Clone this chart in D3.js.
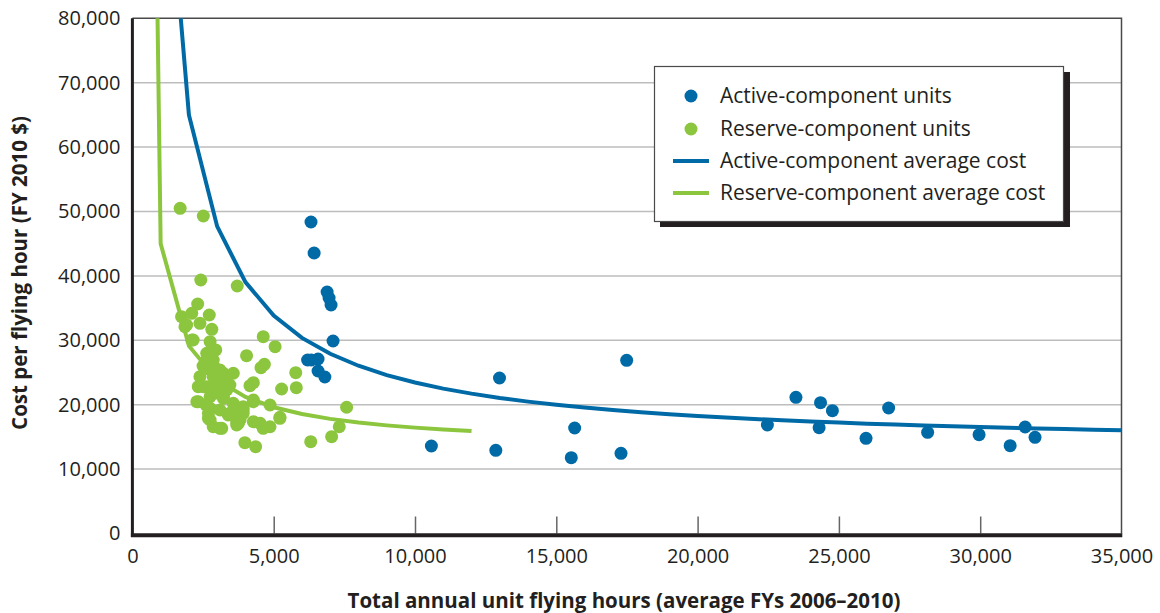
<!DOCTYPE html>
<html>
<head>
<meta charset="utf-8">
<script src="https://cdn.jsdelivr.net/npm/d3@7"></script>
<style>
  html, body { margin: 0; padding: 0; background: #ffffff; }
  svg { display: block; }
  text { font-family: "Open Sans", "Noto Sans", sans-serif; fill: #231f20; }
</style>
</head>
<body>
<svg id="chart" width="1160" height="613"></svg>
<script>
// ---------------- DATA ----------------
const xTicks = [0, 5000, 10000, 15000, 20000, 25000, 30000, 35000];
const yTicks = [0, 10000, 20000, 30000, 40000, 50000, 60000, 70000, 80000];

const activeHours = [6320, 6430, 6890, 6960, 7030, 7100, 6200, 6330, 6570, 6570, 6810,
  10580, 12860, 12990, 15530, 15650, 17290, 17490,
  22470, 23480, 24350, 24300, 24770, 25960, 26760, 28140, 29960, 31060, 31590, 31940];
const activeCost = [48370, 43560, 37500, 36570, 35480, 29890, 26940, 26940, 27100, 25230, 24300,
  13590, 12920, 24150, 11770, 16380, 12450, 26890,
  16850, 21150, 20310, 16430, 19070, 14780, 19490, 15710, 15340, 13640, 16540, 14940];

const reserveHours = [1690, 2510, 2420, 3710, 2310, 4630, 5050, 4040, 4550, 4670,
  5780, 5280, 5800, 4160, 4280, 7580, 7320, 7050, 6310, 3980,
  4360, 4870, 5220, 4870, 4630, 4280, 3750, 3920, 4280, 3450,
  1740, 2100, 2720, 1920, 2390, 2810, 2150, 2750, 2630, 2860,
  2390, 2750, 3100, 3570, 2510, 2980, 3340, 2280, 2750, 3220,
  2750, 2690, 2860, 3160, 3690, 3920, 4520, 5220, 1860, 2100,
  2750, 2860, 2630, 2860, 3220, 2330, 2630, 3100, 3450, 2330,
  3220, 2690, 3100, 2750, 3510, 3810, 3690, 3920, 3690, 3100,
  3570, 4280, 3390, 2500, 2950, 3000, 2600, 3300];
const reserveCost = [50500, 49300, 39360, 38430, 35640, 30560, 29010, 27610, 25750, 26270,
  24970, 22440, 22640, 22950, 23420, 19600, 16580, 15030, 14260, 14100,
  13480, 19950, 18040, 16580, 16330, 17360, 17110, 19180, 20470, 18660,
  33670, 34190, 33930, 32380, 32640, 31710, 30050, 29790, 27980, 26940,
  24350, 25390, 25390, 24880, 22800, 23320, 22280, 20470, 21240, 20990,
  19440, 17890, 16580, 16330, 17360, 19690, 17110, 17890, 32110, 30050,
  27720, 26160, 26940, 24350, 24880, 22800, 22800, 22800, 23060, 20470,
  21240, 18660, 19180, 17620, 18660, 17620, 19180, 18660, 16850, 16330,
  20220, 20730, 18400, 26000, 28500, 21800, 20000, 24000];

const activeCurveHours = [1000, 2000, 3000, 4000, 5000, 6000, 7000, 8000, 9000, 10000,
  11000, 12000, 13000, 14000, 15000, 16000, 17000, 18000, 19000, 20000,
  21000, 22000, 23000, 24000, 25000, 26000, 27000, 28000, 29000, 30000,
  31000, 32000, 33000, 34000, 35000];
const activeCurveCost = [116940, 65000, 47690, 39030, 33840, 30370, 27900, 26050, 24600, 23450,
  22500, 21720, 21050, 20480, 19990, 19550, 19170, 18830, 18530, 18250,
  18010, 17780, 17580, 17390, 17220, 17060, 16910, 16770, 16640, 16520,
  16410, 16310, 16210, 16120, 16030];

const reserveCurveHours = [100, 1000, 2000, 3000, 4000, 5000, 6000, 7000, 8000, 9000, 10000, 11000, 12000];
const reserveCurveCost = [330600, 45000, 29130, 23840, 21200, 19610, 18550, 17800, 17230, 16790, 16440, 16150, 15910];

const legendLabels = ["Active-component units", "Reserve-component units",
  "Active-component average cost", "Reserve-component average cost"];
const xTitle = "Total annual unit flying hours (average FYs 2006–2010)";
const yTitle = "Cost per flying hour (FY 2010 $)";

// ---------------- STYLE ----------------
const BLUE = "#006aa7";
const GREEN = "#8cc63f";
const INK = "#231f20";

const svg = d3.select("#chart");
const x = d3.scaleLinear().domain([0, 35000]).range([132.4, 1121.5]);
const y = d3.scaleLinear().domain([0, 80000]).range([533.5, 18.3]);

// clip
svg.append("defs").append("clipPath").attr("id", "plotclip")
  .append("rect").attr("x", x(0)).attr("y", y(80000))
  .attr("width", x(35000) - x(0)).attr("height", y(0) - y(80000));

// gridlines
svg.append("g").selectAll("line")
  .data(yTicks.filter(d => d > 0 && d < 80000)).join("line")
  .attr("x1", x(0)).attr("x2", x(35000))
  .attr("y1", d => y(d)).attr("y2", d => y(d))
  .attr("stroke", "#bdbdbd").attr("stroke-width", 1.5);

// frame top/right
svg.append("path")
  .attr("d", `M${x(0)},${y(80000)}H${x(35000)}V${y(0)}`)
  .attr("fill", "none").attr("stroke", "#4a4a4a").attr("stroke-width", 1.5);

// x axis
const xAxis = svg.append("g").attr("transform", `translate(0,${y(0)})`)
  .call(d3.axisBottom(x).tickValues(xTicks).tickSize(-17).tickPadding(0).tickFormat(d3.format(",")));
xAxis.select(".domain").remove();
xAxis.selectAll(".tick line").attr("stroke", "#666").attr("stroke-width", 1.5)
  .filter(d => d === 0 || d === 35000).remove();
xAxis.selectAll(".tick text").attr("y", 29).attr("dy", 0)
  .attr("font-size", 20).attr("fill", INK).attr("font-family", null);

// y axis
const yAxis = svg.append("g").attr("transform", `translate(${x(0)},0)`)
  .call(d3.axisLeft(y).tickValues(yTicks).tickSize(0).tickPadding(12).tickFormat(d3.format(",")));
yAxis.select(".domain").remove();
yAxis.selectAll(".tick text").attr("font-size", 20).attr("fill", INK).attr("font-family", null);

// thick axis lines
svg.append("line").attr("x1", x(0)).attr("x2", x(0)).attr("y1", y(80000)).attr("y2", y(0) + 3.5)
  .attr("stroke", INK).attr("stroke-width", 3);
svg.append("line").attr("x1", x(0) - 1.5).attr("x2", x(35000) + 0.8).attr("y1", y(0) + 1.8).attr("y2", y(0) + 1.8)
  .attr("stroke", INK).attr("stroke-width", 4);

// points
const plot = svg.append("g").attr("clip-path", "url(#plotclip)");
const R = 6.5;
plot.append("g").selectAll("circle")
  .data(reserveHours.map((h, i) => [h, reserveCost[i]])).join("circle")
  .attr("cx", d => x(d[0])).attr("cy", d => y(d[1])).attr("r", R).attr("fill", GREEN);
plot.append("g").selectAll("circle")
  .data(activeHours.map((h, i) => [h, activeCost[i]])).join("circle")
  .attr("cx", d => x(d[0])).attr("cy", d => y(d[1])).attr("r", R).attr("fill", BLUE);

// curves
const line = d3.line().x(d => x(d[0])).y(d => y(d[1]));
plot.append("path").datum(reserveCurveHours.map((h, i) => [h, reserveCurveCost[i]]))
  .attr("d", line).attr("fill", "none").attr("stroke", GREEN).attr("stroke-width", 4);
plot.append("path").datum(activeCurveHours.map((h, i) => [h, activeCurveCost[i]]))
  .attr("d", line).attr("fill", "none").attr("stroke", BLUE).attr("stroke-width", 4);

// axis titles
svg.append("text").attr("x", 624).attr("y", 608).attr("text-anchor", "middle")
  .attr("font-size", 20.5).attr("font-weight", "bold").text(xTitle);
svg.append("text").attr("transform", "translate(27,273) rotate(-90)").attr("text-anchor", "middle")
  .attr("font-size", 20.5).attr("font-weight", "bold").text(yTitle);

// legend
const lg = svg.append("g");
lg.append("rect").attr("x", 660).attr("y", 72).attr("width", 410).attr("height", 155).attr("fill", INK);
lg.append("rect").attr("x", 654.5).attr("y", 66.5).attr("width", 409).attr("height", 155)
  .attr("fill", "#fff").attr("stroke", "#4a4a4a").attr("stroke-width", 1.2);
const ly = [96, 129, 161, 193];
lg.append("circle").attr("cx", 691).attr("cy", ly[0]).attr("r", R).attr("fill", BLUE);
lg.append("circle").attr("cx", 691).attr("cy", ly[1]).attr("r", R).attr("fill", GREEN);
lg.append("line").attr("x1", 673).attr("x2", 709).attr("y1", ly[2]).attr("y2", ly[2]).attr("stroke", BLUE).attr("stroke-width", 4);
lg.append("line").attr("x1", 673).attr("x2", 709).attr("y1", ly[3]).attr("y2", ly[3]).attr("stroke", GREEN).attr("stroke-width", 4);
lg.selectAll("text.lab").data(legendLabels).join("text").attr("class", "lab")
  .attr("x", 720).attr("y", (d, i) => ly[i]).attr("dy", "0.35em")
  .attr("font-size", 21).text(d => d);
</script>
</body>
</html>
